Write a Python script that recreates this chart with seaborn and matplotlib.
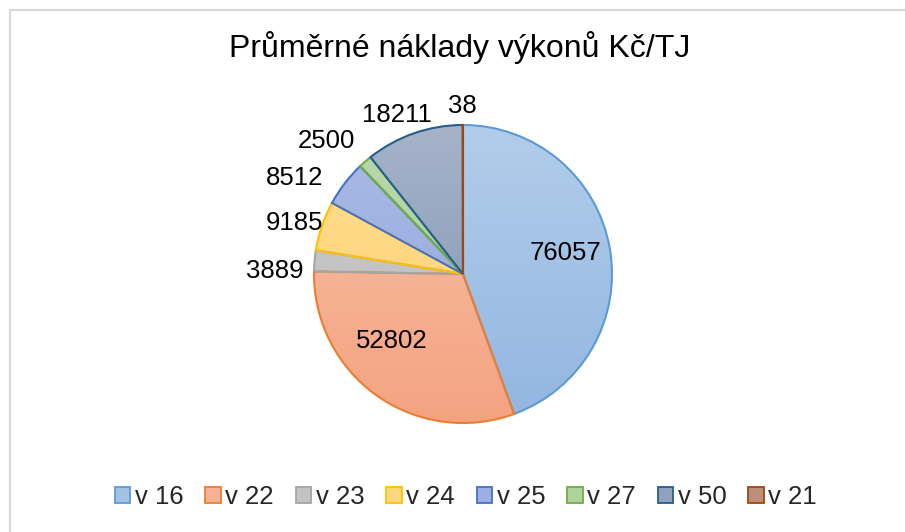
import numpy as np
import matplotlib
matplotlib.use("Agg")
import matplotlib.pyplot as plt
import matplotlib.colors as mcolors
from matplotlib.patches import Patch, Rectangle
import seaborn as sns

# ---- data ----
categories = ["v 16", "v 22", "v 23", "v 24", "v 25", "v 27", "v 50", "v 21"]
values = [76057, 52802, 3889, 9185, 8512, 2500, 18211, 38]
title = "Průměrné náklady výkonů Kč/TJ"

# ---- styles ----
edge_colors = ["#5b9bd5", "#ed7d31", "#a5a5a5", "#ffc000",
               "#4472c4", "#70ad47", "#255e91", "#9e480e"]
light_colors = ["#b2cdea", "#f8c1a8", "#cbcbcb", "#ffde94",
                "#abbbe6", "#b9d9ab", "#a6b3c9", "#cca592"]
dark_colors = ["#92b6e1", "#f4a381", "#bcbcbc", "#ffcf6c",
               "#8ea4db", "#a2ce8e", "#7e92b2", "#ad7a5f"]
label_dist = [0.70, 0.655, 1.262, 1.178, 1.299, 1.281, 1.155, 1.128]
label_shift = [1.6, -11.2, 4.2, 2.0, 7.8, 4.8, 3.5, 0.3]

sns.set_theme(style="white")
plt.rcParams["font.family"] = ["Liberation Sans", "DejaVu Sans"]

W, H = 905, 532
fig = plt.figure(figsize=(W / 100, H / 100), dpi=100)
fig.patch.set_facecolor("white")

cx, cy, R = 463, 274, 149
ax = fig.add_axes([(cx - R) / W, (H - cy - R) / H, 2 * R / W, 2 * R / H])

edge_pal = sns.color_palette(edge_colors)
wedges, _ = ax.pie(values, startangle=90, counterclock=False, radius=1,
                   colors=light_colors,
                   wedgeprops=dict(edgecolor="none", linewidth=1.5))

grad = np.linspace(0, 1, 256).reshape(-1, 1)
for i, w in enumerate(wedges):
    cmap = mcolors.LinearSegmentedColormap.from_list(
        f"g{i}", [light_colors[i], dark_colors[i]])
    im = ax.imshow(grad, extent=(-1, 1, -1, 1), origin="upper", cmap=cmap,
                   aspect="auto", zorder=0.5, interpolation="bilinear")
    im.set_clip_path(w)
    w.set_facecolor("none")
    w.set_edgecolor(edge_pal[i])
    w.set_zorder(2)

ax.set_xlim(-1.0, 1.0)
ax.set_ylim(-1.0, 1.0)
ax.set_aspect("equal")
ax.axis("off")

for i, w in enumerate(wedges):
    ang = np.deg2rad((w.theta1 + w.theta2) / 2 + label_shift[i])
    d = label_dist[i]
    ax.text(d * np.cos(ang), d * np.sin(ang), f"{values[i]}",
            ha="center", va="center", fontsize=18.5, color="black",
            clip_on=False, zorder=5)

fig.text(459.5 / W, 1 - 47 / H, title, ha="center", va="center",
         fontsize=23, color="black")

handles = [Patch(facecolor=mcolors.to_hex(
    (np.array(mcolors.to_rgb(light_colors[i])) + np.array(mcolors.to_rgb(dark_colors[i]))) / 2),
    edgecolor=edge_pal[i], linewidth=1.3, label=categories[i])
    for i in range(len(categories))]
fig.legend(handles=handles, ncol=8, loc="center", bbox_to_anchor=(466 / W, 1 - 497 / H),
           frameon=False, fontsize=18.5, handlelength=0.6, handleheight=0.6,
           handletextpad=0.18, columnspacing=0.85, borderpad=0, borderaxespad=0)

fig.add_artist(Rectangle((9.5 / W, -0.1), 1.2, (H - 9.5) / H + 0.1,
                         transform=fig.transFigure, fill=False,
                         edgecolor="#d9d9d9", linewidth=1.5))

fig.savefig("out.png", dpi=100, facecolor="white")
